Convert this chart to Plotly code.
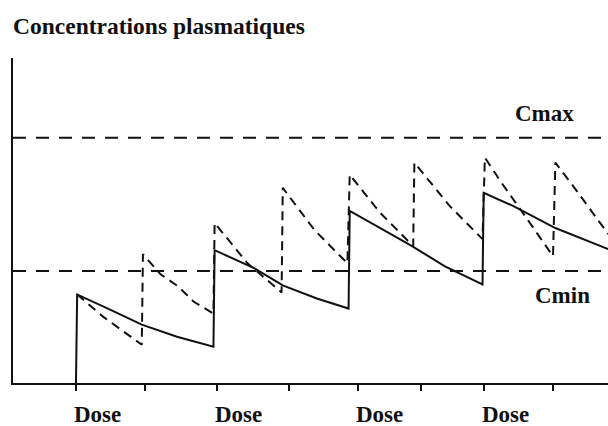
import plotly.graph_objects as go

# Time axis in hours, concentration in arbitrary units
dose_ticks = [0, 12, 24, 34.7]
half_dose_ticks = [5.9, 18.1, 29.4, 40.6]
dose_labels = ["Dose", "Dose", "Dose", "Dose"]

# Regimen 1: full dose every interval (solid curve)
solid_t = [0, 0.1, 2.9, 5.6, 8.6, 11.7,
           11.8, 15.2, 17.6, 20.5, 23.2,
           23.3, 25.9, 28.6, 31.4, 34.6,
           34.7, 37.2, 40.8, 45.3]
solid_c = [0, 35.2, 29.2, 23.2, 18.4, 14.4,
           52.8, 45.6, 38.8, 33.6, 29.6,
           68.4, 61.6, 54.4, 46.4, 39.2,
           75.6, 70.4, 61.6, 53.2]

# Regimen 2: split dose every half interval (dashed curve)
dashed_t = [0.1, 2.3, 5.6,
            5.7, 7.2, 8.7, 10.0, 11.7,
            11.8, 14.6, 17.5,
            17.6, 20.3, 23.1,
            23.3, 25.9, 28.7,
            28.8, 31.8, 34.6,
            34.8, 36.1, 38.4, 40.6,
            40.8, 42.3, 45.3]
dashed_c = [35.2, 26.4, 15.2,
            51.2, 43.2, 38.4, 32.4, 27.6,
            63.6, 47.6, 36.0,
            77.6, 60.8, 47.6,
            82.8, 67.6, 54.4,
            87.6, 70.4, 57.2,
            89.6, 80.4, 65.2, 50.4,
            87.6, 78.4, 59.2]

c_max = 97.5
c_min = 44.5

x_range = [-5.36, 45.28]
y_range = [0, 129.2]
ink = "#111111"
font_serif = "Liberation Serif, Times New Roman, serif"

fig = go.Figure()

# Therapeutic window bounds
fig.add_trace(go.Scatter(x=x_range, y=[c_max, c_max], mode="lines",
                         line=dict(color=ink, width=2, dash="13px,10px"),
                         hoverinfo="skip"))
fig.add_trace(go.Scatter(x=x_range, y=[c_min, c_min], mode="lines",
                         line=dict(color=ink, width=2, dash="13px,10px"),
                         hoverinfo="skip"))

fig.add_trace(go.Scatter(x=dashed_t, y=dashed_c, mode="lines",
                         line=dict(color=ink, width=2, dash="9px,6px"),
                         hoverinfo="skip"))
fig.add_trace(go.Scatter(x=solid_t, y=solid_c, mode="lines",
                         line=dict(color=ink, width=2),
                         hoverinfo="skip"))

annotations = [
    dict(text="<b>Concentrations plasmatiques</b>", xref="paper", yref="paper",
         x=0, y=1, xanchor="left", yanchor="middle", xshift=-2, yshift=32,
         showarrow=False, font=dict(family=font_serif, size=23.5, color=ink)),
    dict(text="<b>Cmax</b>", x=39.9, y=c_max, xanchor="center", yanchor="middle",
         yshift=24, showarrow=False, font=dict(family=font_serif, size=23, color=ink)),
    dict(text="<b>Cmin</b>", x=41.4, y=c_min, xanchor="center", yanchor="middle",
         yshift=-24, showarrow=False, font=dict(family=font_serif, size=23, color=ink)),
]
for t, lab in zip(dose_ticks, dose_labels):
    annotations.append(dict(text="<b>%s</b>" % lab, x=t, xref="x", y=0, yref="paper",
                            xanchor="left", yanchor="middle", xshift=-4, yshift=-31,
                            showarrow=False,
                            font=dict(family=font_serif, size=23, color=ink)))

fig.update_layout(
    width=608, height=426,
    margin=dict(l=13, r=0, t=58, b=43),
    paper_bgcolor="white", plot_bgcolor="white",
    showlegend=False,
    annotations=annotations,
    xaxis=dict(range=x_range, showgrid=False, zeroline=False,
               showline=True, linecolor=ink, linewidth=2,
               ticks="outside", ticklen=6, tickwidth=2, tickcolor=ink,
               tickvals=sorted(dose_ticks + half_dose_ticks),
               showticklabels=False, fixedrange=True),
    yaxis=dict(range=y_range, showgrid=False, zeroline=False,
               showline=True, linecolor=ink, linewidth=2,
               ticks="", showticklabels=False, fixedrange=True),
)

fig.write_html("out.html")
